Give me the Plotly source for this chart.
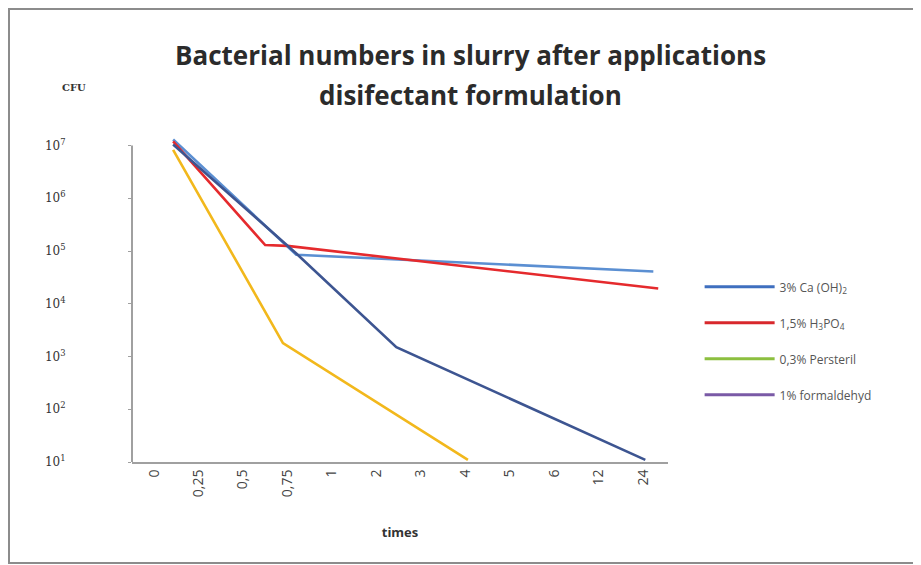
import plotly.graph_objects as go

# Category labels of the time axis (hours)
time_labels = ["0", "0,25", "0,5", "0,75", "1", "2", "3", "4", "5", "6", "12", "24"]

# Series: x in category-index units, y = CFU (log scale)
ca_x = [0.43, 3.2, 11.23]
ca_y = [1.3e7, 8.5e4, 4.1e4]

h3po4_x = [0.43, 2.5, 3.0, 11.34]
h3po4_y = [1.2e7, 1.3e5, 1.25e5, 1.95e4]

persteril_x = [0.43, 2.9, 7.06]
persteril_y = [8.3e6, 1.8e3, 1.1e1]

formaldehyd_x = [0.43, 3.2, 5.45, 11.05]
formaldehyd_y = [1.05e7, 9.0e4, 1.5e3, 1.1e1]

y_tickvals = [1e1, 1e2, 1e3, 1e4, 1e5, 1e6, 1e7]
y_ticktext = ["10<sup>1</sup>", "10<sup>2</sup>", "10<sup>3</sup>", "10<sup>4</sup>",
              "10<sup>5</sup>", "10<sup>6</sup>", "10<sup>7</sup>"]

legend_names = ["3% Ca (OH)<sub>2</sub>", "1,5% H<sub>3</sub>PO<sub>4</sub>",
                "0,3% Persteril", "1% formaldehyd"]

plot_colors = ["#5b8fd2", "#e52a2d", "#f2b81c", "#3d5591"]
legend_colors = ["#3f6fbf", "#d8282c", "#8cbf3f", "#7a5aa6"]

fig = go.Figure()
series = [(ca_x, ca_y), (h3po4_x, h3po4_y), (persteril_x, persteril_y), (formaldehyd_x, formaldehyd_y)]
for (xs, ys), col in zip(series, plot_colors):
    fig.add_trace(go.Scatter(x=xs, y=ys, mode="lines", line=dict(color=col, width=2.6),
                             showlegend=False, hoverinfo="x+y"))

for i, (name, col) in enumerate(zip(legend_names, legend_colors)):
    fig.add_trace(go.Scatter(x=[None], y=[None], mode="lines", name=name,
                             line=dict(color=col, width=3), legendgroup=f"g{i}"))

fig.update_layout(
    width=913, height=557,
    margin=dict(l=124, r=253, t=127, b=103),
    paper_bgcolor="white", plot_bgcolor="white",
    font=dict(family="Open Sans", color="#333333"),
    showlegend=True,
    legend=dict(x=1.059, y=0.58, xanchor="left", yanchor="top",
                font=dict(size=12, color="#555555"), tracegroupgap=17,
                itemwidth=70, bgcolor="rgba(0,0,0,0)"),
    xaxis=dict(range=[-0.495, 11.56], tickmode="array",
               tickvals=list(range(len(time_labels))), ticktext=time_labels,
               tickangle=-90, tickfont=dict(size=14, color="#444444"),
               showline=True, linecolor="#a0a0a0", linewidth=2, ticks="",
               showgrid=False, zeroline=False,
               title=dict(text="<b>times</b>", font=dict(size=13, color="#333333"), standoff=32)),
    yaxis=dict(type="log", range=[1, 7.2], tickmode="array",
               tickvals=y_tickvals, ticktext=y_ticktext,
               tickfont=dict(size=12, color="#333333", family="DejaVu Serif"),
               ticks="outside", ticklen=3, tickcolor="#a0a0a0",
               ticklabelstandoff=60, showline=False, showgrid=False, zeroline=False),
)

# y-axis line from 10^1 to 10^7
fig.add_shape(type="line", xref="paper", yref="paper", x0=0, x1=0, y0=0, y1=6 / 6.2,
              line=dict(color="#a0a0a0", width=2))

# outer frame
fig.add_shape(type="rect", xref="paper", yref="paper",
              x0=(9 - 132) / 536, x1=(930 - 132) / 536,
              y0=(462 - 563) / 327, y1=(462 - 9) / 327,
              line=dict(color="#8c8c8c", width=2), layer="below")

fig.add_annotation(text="<b>Bacterial numbers in slurry after applications</b>",
                   xref="paper", yref="paper", x=(470 - 132) / 536, y=(462 - 55) / 327,
                   xanchor="center", yanchor="middle",
                   showarrow=False, font=dict(size=26, color="#2b2b2b"))
fig.add_annotation(text="<b>disifectant formulation</b>",
                   xref="paper", yref="paper", x=(470 - 132) / 536, y=(462 - 95) / 327,
                   xanchor="center", yanchor="middle",
                   showarrow=False, font=dict(size=26, color="#2b2b2b"))
fig.add_annotation(text="<b>CFU</b>", xref="paper", yref="paper", xanchor="left",
                   yanchor="middle",
                   x=(60 - 132) / 536, y=(462 - 87) / 327, showarrow=False,
                   font=dict(size=10, color="#333333", family="DejaVu Serif"))

fig.write_html("out.html")
